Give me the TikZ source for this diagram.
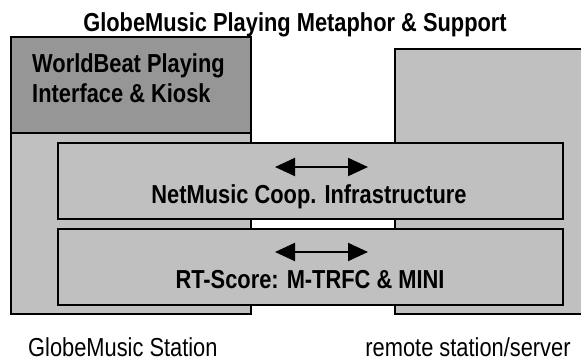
\documentclass[tikz,border=0pt]{standalone}
\usepackage{fontspec}
\setmainfont[FakeStretch=0.84]{Liberation Sans}
\usetikzlibrary{arrows.meta}
\definecolor{boxgray}{RGB}{192,192,192}
\definecolor{topgray}{RGB}{150,150,150}
\tikzset{
  layer/.style={draw=black,fill=boxgray,line width=1.2pt},
  label/.style={inner sep=0pt,anchor=base,font=\fontsize{26}{31}\selectfont},
  bold label/.style={label,font=\fontsize{26}{31}\selectfont\bfseries},
  flow/.style={{Triangle[length=20pt,width=18pt]}-{Triangle[length=20pt,width=18pt]},line width=2pt}
}
\begin{document}
\begin{tikzpicture}[x=1pt,y=-1pt]
\useasboundingbox (0,0) rectangle (581,362);
\draw[layer] (11,37) rectangle (251,314);
\draw[layer,fill=topgray] (11,37) rectangle (251,133);
\draw[layer] (395,49) rectangle (590,314);
\draw[layer] (58,143) rectangle (563,219);
\draw[layer] (58,229) rectangle (563,305);
\coordinate (netL) at (275,167);
\coordinate (netR) at (368,167);
\coordinate (rtL) at (275,252);
\coordinate (rtR) at (368,252);
\draw[flow] (netL) -- (netR);
\draw[flow] (rtL) -- (rtR);
\node[bold label] (title) at (295,31) {GlobeMusic Playing Metaphor \& Support};
\node[bold label,anchor=base west] (wb1) at (32,72) {WorldBeat Playing};
\node[bold label,anchor=base west] (wb2) at (32,102) {Interface \& Kiosk};
\node[bold label] (net) at (309,203) {NetMusic Coop. Infrastructure};
\node[bold label] (rt) at (310,288) {RT-Score: M-TRFC \& MINI};
\node[label,anchor=base west] (local) at (28,356) {GlobeMusic Station};
\node[label] (remote) at (468,356) {remote station/server};
\end{tikzpicture}
\end{document}
